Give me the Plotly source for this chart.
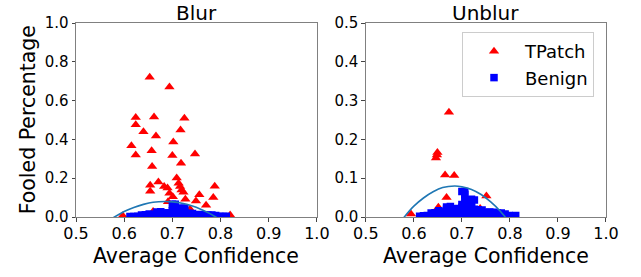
import plotly.graph_objects as go

# ---------------- data ----------------
tpatch_blur_conf = [0.653, 0.694, 0.624, 0.662, 0.725, 0.624, 0.640, 0.717, 0.666, 0.702,
                    0.615, 0.657, 0.624, 0.700, 0.747, 0.718, 0.658, 0.709, 0.671, 0.654,
                    0.713, 0.788, 0.683, 0.690, 0.654, 0.719, 0.694, 0.723, 0.756, 0.785,
                    0.701, 0.749, 0.727, 0.770, 0.691, 0.660, 0.597, 0.820, 0.717, 0.737,
                    0.716]
tpatch_blur_fooled = [0.721, 0.670, 0.513, 0.515, 0.509, 0.475, 0.439, 0.449, 0.418, 0.386,
                      0.367, 0.341, 0.320, 0.317, 0.325, 0.277, 0.260, 0.201, 0.181, 0.164,
                      0.174, 0.158, 0.157, 0.150, 0.133, 0.139, 0.122, 0.127, 0.115, 0.101,
                      0.105, 0.083, 0.091, 0.060, 0.079, 0.028, 0.007, 0.010, 0.040, 0.040,
                      0.157]

tpatch_unblur_conf = [0.673, 0.649, 0.646, 0.665, 0.684, 0.751, 0.668, 0.651, 0.594, 0.738, 0.648]
tpatch_unblur_fooled = [0.270, 0.166, 0.152, 0.108, 0.107, 0.054, 0.050, 0.025, 0.008, 0.022, 0.160]

benign_conf = [0.612, 0.620, 0.628,
               0.636, 0.636,
               0.644, 0.644,
               0.652, 0.652, 0.652,
               0.660, 0.660,
               0.668, 0.668, 0.668, 0.668,
               0.676, 0.676, 0.676, 0.676,
               0.684, 0.684, 0.684,
               0.692, 0.692, 0.692,
               0.700, 0.700, 0.700, 0.700, 0.700,
               0.706, 0.706, 0.706, 0.706, 0.706, 0.706, 0.706,
               0.712, 0.712, 0.712, 0.712,
               0.720, 0.720, 0.720, 0.720, 0.720,
               0.726, 0.726, 0.726, 0.726,
               0.734, 0.734, 0.734,
               0.742, 0.742, 0.742,
               0.750, 0.750,
               0.758, 0.758,
               0.766, 0.766,
               0.774, 0.774,
               0.782, 0.782,
               0.790, 0.790,
               0.798, 0.806, 0.812]
benign_fooled = [0.002, 0.003, 0.004,
                 0.003, 0.010,
                 0.004, 0.011,
                 0.003, 0.012, 0.016,
                 0.004, 0.012,
                 0.003, 0.012, 0.020, 0.026,
                 0.004, 0.013, 0.022, 0.027,
                 0.003, 0.012, 0.021,
                 0.004, 0.013, 0.022,
                 0.003, 0.014, 0.025, 0.032, 0.066,
                 0.004, 0.015, 0.026, 0.033, 0.046, 0.058, 0.066,
                 0.003, 0.013, 0.024, 0.032,
                 0.004, 0.014, 0.026, 0.038, 0.046,
                 0.003, 0.012, 0.020, 0.044,
                 0.004, 0.012, 0.019,
                 0.003, 0.011, 0.018,
                 0.004, 0.012,
                 0.003, 0.013,
                 0.004, 0.012,
                 0.003, 0.010,
                 0.004, 0.010,
                 0.003, 0.008,
                 0.004, 0.003, 0.004]

fit_conf = [0.570, 0.580, 0.600, 0.620, 0.640, 0.660, 0.685, 0.700, 0.720, 0.740, 0.760, 0.780, 0.790, 0.800]
fit_fooled = [-0.016, 0.000, 0.028, 0.049, 0.065, 0.076, 0.080, 0.078, 0.071, 0.058, 0.039, 0.015, 0.000, -0.016]

x_ticks = [0.5, 0.6, 0.7, 0.8, 0.9, 1.0]
x_tick_labels = ["0.5", "0.6", "0.7", "0.8", "0.9", "1.0"]
y_ticks_blur = [0.0, 0.2, 0.4, 0.6, 0.8, 1.0]
y_tick_labels_blur = ["0.0", "0.2", "0.4", "0.6", "0.8", "1.0"]
y_ticks_unblur = [0.0, 0.1, 0.2, 0.3, 0.4, 0.5]
y_tick_labels_unblur = ["0.0", "0.1", "0.2", "0.3", "0.4", "0.5"]

panel_titles = ["Blur", "Unblur"]
x_title = "Average Confidence"
y_title = "Fooled Percentage"

# ---------------- figure ----------------
FONT = "DejaVu Sans"
RED = "#ff0000"
BLUE = "#0000ff"
FIT = "#1f77b4"

fig = go.Figure()

panels = [
    ("x", "y", tpatch_blur_conf, tpatch_blur_fooled, True),
    ("x2", "y2", tpatch_unblur_conf, tpatch_unblur_fooled, False),
]
for xa, ya, tx, ty, first in panels:
    fig.add_trace(go.Scatter(x=tx, y=ty, mode="markers", name="TPatch",
                             marker=dict(symbol="triangle-up", color=RED, size=9, line=dict(width=0)),
                             xaxis=xa, yaxis=ya, showlegend=not first, cliponaxis=True,
                             legendgroup="a"))
    fig.add_trace(go.Scatter(x=benign_conf, y=benign_fooled, mode="markers", name="Benign",
                             marker=dict(symbol="square", color=BLUE, size=7.5, line=dict(width=0)),
                             xaxis=xa, yaxis=ya, showlegend=not first, cliponaxis=True,
                             legendgroup="b"))
    fig.add_trace(go.Scatter(x=fit_conf, y=fit_fooled, mode="lines",
                             line=dict(color=FIT, width=1.6, shape="spline"),
                             xaxis=xa, yaxis=ya, showlegend=False, hoverinfo="skip"))

L, R, T, B = 75.7, 35.0, 23.3, 60.0
W, H = 641, 277
pw = W - L - R
d1 = (316.7 - L) / pw
d2 = (365.7 - L) / pw

axis_common = dict(showgrid=False, zeroline=False, showline=True, mirror=True,
                   linecolor="#808080", linewidth=1, ticks="outside", ticklen=3.5,
                   tickcolor="#444444", tickwidth=1)

fig.update_layout(
    width=W, height=H,
    margin=dict(l=L, r=R, t=T, b=B, autoexpand=False),
    plot_bgcolor="white", paper_bgcolor="white",
    font=dict(family=FONT, color="#000000"),
    xaxis=dict(domain=[0, d1], range=[0.5, 1.0], tickvals=x_ticks, ticktext=x_tick_labels,
               tickfont=dict(size=16), ticklabelstandoff=-2, anchor="y", **axis_common),
    yaxis=dict(domain=[0, 1], range=[0, 1.0], tickvals=y_ticks_blur, ticktext=y_tick_labels_blur,
               tickfont=dict(size=15), anchor="x", **axis_common),
    xaxis2=dict(domain=[d2, 1], range=[0.5, 1.0], tickvals=x_ticks, ticktext=x_tick_labels,
                tickfont=dict(size=16), ticklabelstandoff=-2, anchor="y2", **axis_common),
    yaxis2=dict(domain=[0, 1], range=[0, 0.5], tickvals=y_ticks_unblur, ticktext=y_tick_labels_unblur,
                tickfont=dict(size=15), anchor="x2", **axis_common),
    legend=dict(x=(594 - L) / pw, xanchor="right", y=(217 - 32.3) / (217 - T), yanchor="top",
                bgcolor="white", bordercolor="#cccccc", borderwidth=1,
                font=dict(size=18, family=FONT), traceorder="grouped", tracegroupgap=0,
                itemwidth=52),
)

ph = H - T - B
annotations = [
    dict(text=panel_titles[0], x=d1 / 2, y=1, xref="paper", yref="paper",
         xanchor="center", yanchor="bottom", yshift=-3, borderpad=0, showarrow=False,
         font=dict(size=20)),
    dict(text=panel_titles[1], x=(d2 + 1) / 2, y=1, xref="paper", yref="paper",
         xanchor="center", yanchor="bottom", yshift=-3, borderpad=0, showarrow=False,
         font=dict(size=20)),
    dict(text=x_title, x=d1 / 2, y=(217 - 256) / ph, xref="paper", yref="paper",
         xanchor="center", yanchor="middle", showarrow=False, font=dict(size=20.5)),
    dict(text=x_title, x=(d2 + 1) / 2, y=(217 - 256) / ph, xref="paper", yref="paper",
         xanchor="center", yanchor="middle", showarrow=False, font=dict(size=20.5)),
    dict(text=y_title, x=(28 - L) / pw, y=0.5, xref="paper", yref="paper",
         xanchor="center", yanchor="middle", textangle=-90, showarrow=False, font=dict(size=20.5)),
]
fig.update_layout(annotations=annotations)

fig.write_html("out.html", config={"displayModeBar": False},
               post_script="document.body.style.margin='0';document.body.style.padding='0';")
